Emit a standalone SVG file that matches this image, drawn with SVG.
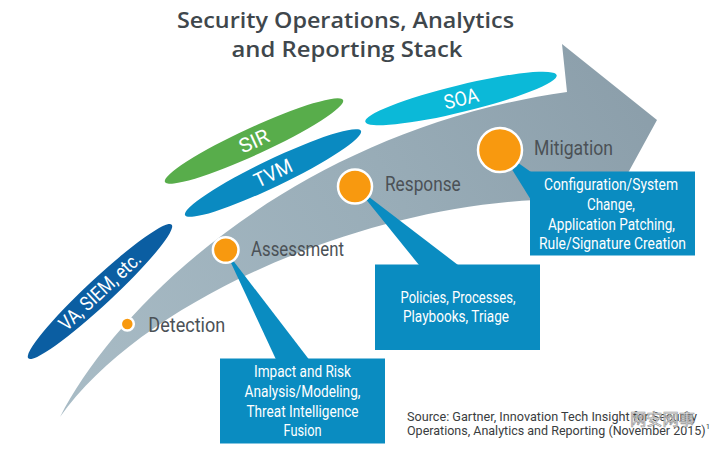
<svg xmlns="http://www.w3.org/2000/svg" width="718" height="453" viewBox="0 0 718 453">
<defs>
<linearGradient id="arrowGrad" gradientUnits="userSpaceOnUse" x1="60" y1="417" x2="657" y2="60">
<stop offset="0" stop-color="#a9bcc6"/>
<stop offset="0.55" stop-color="#99adb8"/>
<stop offset="1" stop-color="#8a9da9"/>
</linearGradient>
<style>
.title{font-family:"Open Sans","Liberation Sans",sans-serif;font-weight:600;font-size:21px;fill:#3f474c;text-anchor:middle}
.stage{font-family:Roboto,"Liberation Sans",sans-serif;font-size:20px;fill:#4b5156}
.ell{font-family:Roboto,"Liberation Sans",sans-serif;font-size:20px;fill:#ffffff;text-anchor:middle}
.box{fill:#0a8cc1}
.wedge{fill:#0a8cc1}
.btxt{font-family:Roboto,"Liberation Sans",sans-serif;font-size:16px;fill:#ffffff;text-anchor:middle}
.dot{fill:#f8990f;stroke:#ffffff;stroke-width:2.5}
.src{font-family:Roboto,"Liberation Sans",sans-serif;font-size:13px;fill:#3a3d40}
</style>
</defs>
<rect width="718" height="453" fill="#ffffff"/>

<g id="title">
<text class="title" x="345.5" y="28" textLength="337" lengthAdjust="spacingAndGlyphs">Security Operations, Analytics</text>
<text class="title" x="347" y="57" textLength="231" lengthAdjust="spacingAndGlyphs">and Reporting Stack</text>
</g>

<g id="arrow">
<path d="M60,417 C120,300 300,130 567,92 L562,44 L657,120 L605,215 L590,200 C400,190 150,290 60,417 Z" fill="url(#arrowGrad)"/>
</g>

<g id="node-va">
<ellipse cx="100" cy="291.5" rx="98" ry="13" transform="rotate(-43 100 291.5)" fill="#0b5ea2"/>
<text class="ell" x="100" y="298" font-size="19" transform="rotate(-43 100 291.5)" textLength="104" lengthAdjust="spacingAndGlyphs">VA, SIEM, etc.</text>
</g>
<g id="node-sir">
<ellipse cx="254" cy="141" rx="98" ry="13.5" transform="rotate(-24.7 254 141)" fill="#58ad4b"/>
<text class="ell" x="254" y="148" transform="rotate(-24.7 254 141)" textLength="31" lengthAdjust="spacingAndGlyphs">SIR</text>
</g>
<g id="node-tvm">
<ellipse cx="273" cy="173" rx="97.5" ry="13.5" transform="rotate(-25.6 273 173)" fill="#0a8ac1"/>
<text class="ell" x="273" y="180" transform="rotate(-25.6 273 173)" textLength="40" lengthAdjust="spacingAndGlyphs">TVM</text>
</g>
<g id="node-soa">
<ellipse cx="461" cy="98.5" rx="98.5" ry="13.5" transform="rotate(-13.7 461 98.5)" fill="#0bb9d8"/>
<text class="ell" x="461" y="105.5" transform="rotate(-13.7 461 98.5)" textLength="35" lengthAdjust="spacingAndGlyphs">SOA</text>
</g>

<g id="connectors">
<polygon class="wedge" points="225,250 276,359.5 309,359.5"/>
<polygon class="wedge" points="356,187 419,265 458,265"/>
<polygon class="wedge" points="500,150 531,172 531,200"/>
</g>

<g id="node-assessment-box">
<rect class="box" x="220" y="358.5" width="165" height="85"/>
<text class="btxt" x="302.5" y="377" textLength="97" lengthAdjust="spacingAndGlyphs">Impact and Risk</text>
<text class="btxt" x="302.5" y="396.7" textLength="116" lengthAdjust="spacingAndGlyphs">Analysis/Modeling,</text>
<text class="btxt" x="302.5" y="416.5" textLength="112" lengthAdjust="spacingAndGlyphs">Threat Intelligence</text>
<text class="btxt" x="302.5" y="436" textLength="38" lengthAdjust="spacingAndGlyphs">Fusion</text>
</g>
<g id="node-response-box">
<rect class="box" x="375" y="264.5" width="165" height="85.5"/>
<text class="btxt" x="458" y="302.7" textLength="115" lengthAdjust="spacingAndGlyphs">Policies, Processes,</text>
<text class="btxt" x="456" y="321.5" textLength="106" lengthAdjust="spacingAndGlyphs">Playbooks, Triage</text>
</g>
<g id="node-mitigation-box">
<rect class="box" x="530" y="171.5" width="165" height="84"/>
<text class="btxt" x="611" y="190" textLength="134" lengthAdjust="spacingAndGlyphs">Configuration/System</text>
<text class="btxt" x="611" y="209.5" textLength="48" lengthAdjust="spacingAndGlyphs">Change,</text>
<text class="btxt" x="611.5" y="229.5" textLength="127" lengthAdjust="spacingAndGlyphs">Application Patching,</text>
<text class="btxt" x="612.5" y="249" textLength="147" lengthAdjust="spacingAndGlyphs">Rule/Signature Creation</text>
</g>

<g id="node-detection">
<circle class="dot" cx="127.3" cy="324" r="6.5" stroke-width="2"/>
<text class="stage" x="148.3" y="331.7" textLength="77" lengthAdjust="spacingAndGlyphs">Detection</text>
</g>
<g id="node-assessment">
<circle class="dot" cx="225.7" cy="250" r="12.8"/>
<text class="stage" x="251" y="256" textLength="93" lengthAdjust="spacingAndGlyphs">Assessment</text>
</g>
<g id="node-response">
<circle class="dot" cx="355" cy="186.5" r="17"/>
<text class="stage" x="385" y="190.7" textLength="75.7" lengthAdjust="spacingAndGlyphs">Response</text>
</g>
<g id="node-mitigation">
<circle class="dot" cx="500" cy="150" r="22"/>
<text class="stage" x="534" y="155" textLength="79" lengthAdjust="spacingAndGlyphs">Mitigation</text>
</g>

<g id="source">
<text class="src" x="407" y="420.7" textLength="290" lengthAdjust="spacingAndGlyphs">Source: Gartner, Innovation Tech Insight for Security</text>
<text class="src" x="407" y="435" textLength="303" lengthAdjust="spacingAndGlyphs">Operations, Analytics and Reporting (November 2015)<tspan font-size="8" dy="-6">1</tspan></text>
<text x="630" y="425" font-family="'Noto Sans CJK SC',sans-serif" font-size="16" fill="#ffffff" fill-opacity="0.85" stroke="#9a9a9a" stroke-width="0.7" textLength="65" lengthAdjust="spacingAndGlyphs">网安网事</text>
</g>
</svg>
